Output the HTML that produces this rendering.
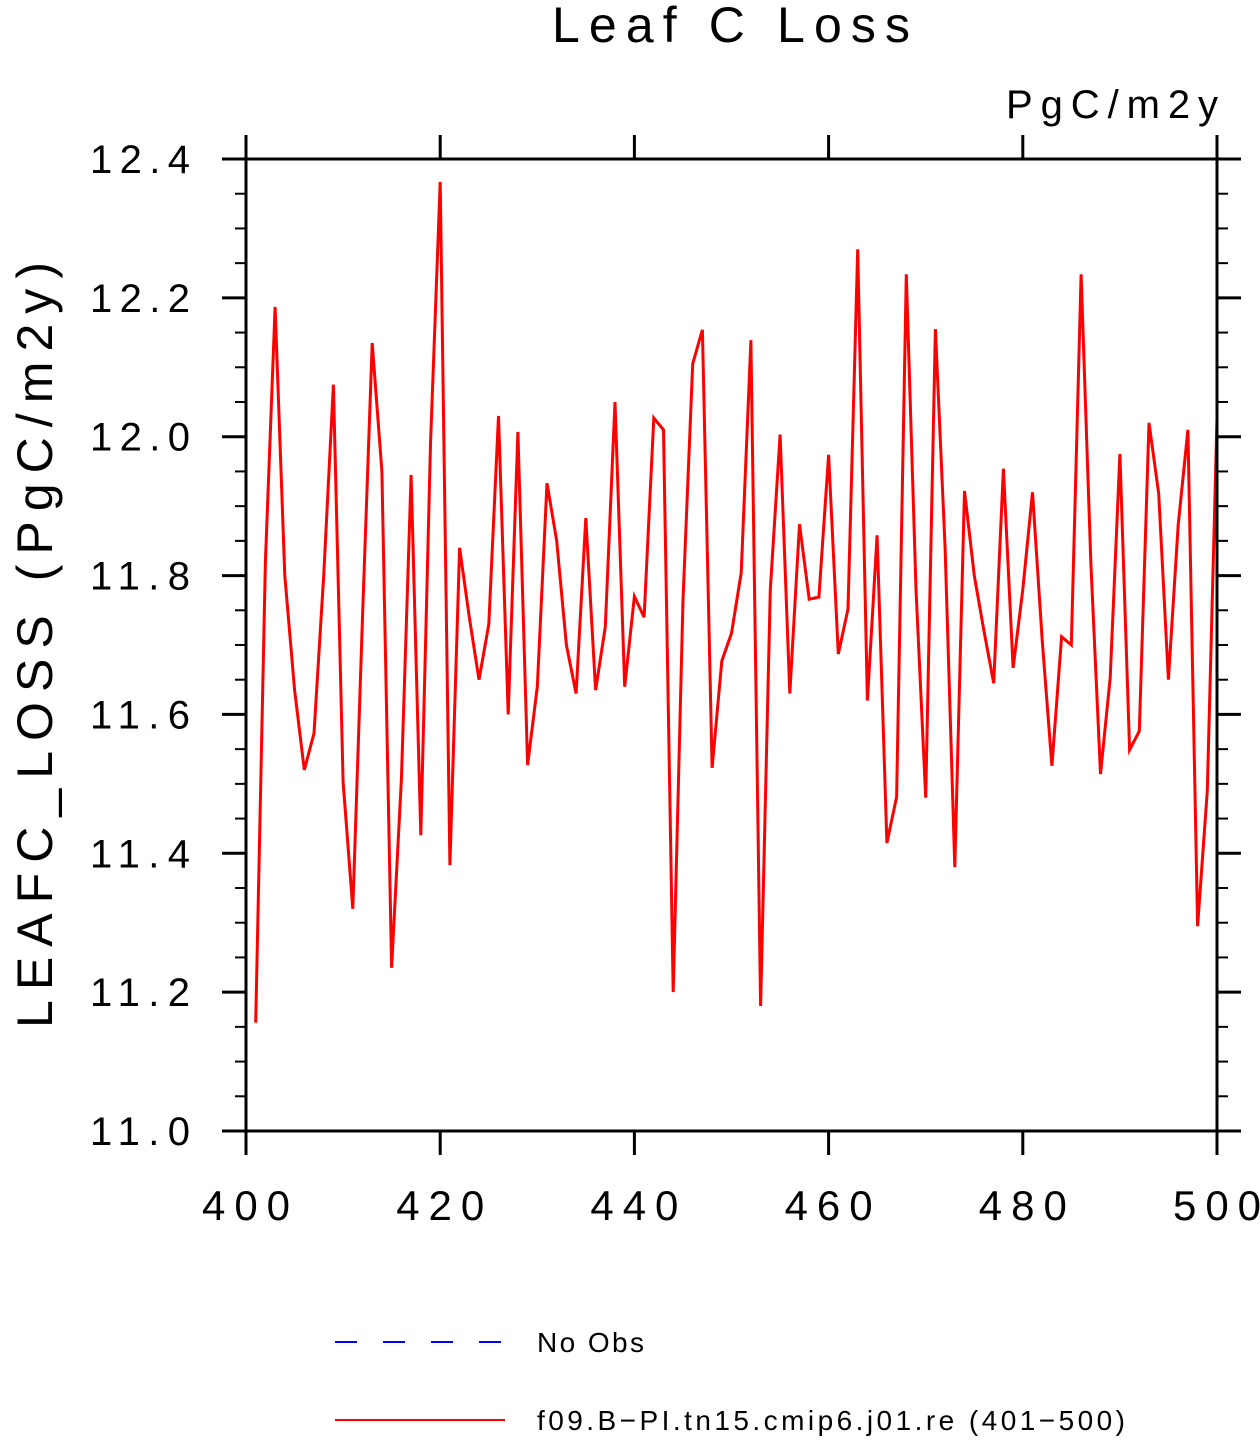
<!DOCTYPE html>
<html><head><meta charset="utf-8"><style>
body{margin:0;background:#fff}
svg text{font-family:"Liberation Sans","DejaVu Sans",sans-serif;fill:#000}
</style></head><body>
<svg id="chart" width="1260" height="1439" viewBox="0 0 1260 1439" xmlns="http://www.w3.org/2000/svg">
<text x="552" y="42" font-size="50" textLength="358" lengthAdjust="spacing">Leaf C Loss</text>
<text x="1006" y="118" font-size="40" textLength="212" lengthAdjust="spacing">PgC/m2y</text>
<text transform="translate(52,1028) rotate(-90)" font-size="50" textLength="766" lengthAdjust="spacing">LEAFC_LOSS  (PgC/m2y)</text>
<g id="axes"></g>
<polyline id="series" fill="none" stroke="#ff0000" stroke-width="3" stroke-linejoin="miter"/>
<rect x="246" y="159" width="971" height="972" fill="none" stroke="#000" stroke-width="3"/>
<line x1="335" y1="1342" x2="505" y2="1342" stroke="#0000ff" stroke-width="2" stroke-dasharray="22,26"/>
<text x="537" y="1352" font-size="28" textLength="107" lengthAdjust="spacing">No Obs</text>
<line x1="335" y1="1420" x2="505" y2="1420" stroke="#ff0000" stroke-width="2"/>
<text x="537" y="1430" font-size="28" textLength="588" lengthAdjust="spacing">f09.B−PI.tn15.cmip6.j01.re (401−500)</text>
</svg>
<script>
const years = [];
for (let i = 401; i <= 500; i++) years.push(i);
const values = [11.156,11.82,12.187,11.80,11.635,11.52,11.573,11.80,12.075,11.503,
11.32,11.74,12.135,11.95,11.235,11.507,11.945,11.426,11.99,12.367,
11.383,11.84,11.74,11.65,11.73,12.03,11.60,12.007,11.527,11.64,
11.933,11.85,11.70,11.63,11.883,11.635,11.726,12.05,11.64,11.77,
11.74,12.027,12.01,11.20,11.765,12.105,12.154,11.523,11.677,11.717,
11.804,12.139,11.18,11.78,12.003,11.63,11.874,11.766,11.769,11.974,
11.687,11.752,12.27,11.62,11.858,11.415,11.481,12.234,11.78,11.48,
12.155,11.84,11.38,11.922,11.80,11.72,11.645,11.954,11.667,11.78,
11.92,11.707,11.526,11.712,11.70,12.234,11.82,11.514,11.653,11.975,
11.549,11.576,12.02,11.918,11.65,11.873,12.01,11.295,11.49,12.027];
const xTicks = [400,420,440,460,480,500];
const yTicks = [11.0,11.2,11.4,11.6,11.8,12.0,12.2,12.4];
const yMinor = [];
for (let v = 11.0; v <= 12.4001; v += 0.05) yMinor.push(+v.toFixed(2));

const X0=246,X1=1217,Y0=1131,Y1=159;
const sx = v => X0 + (v-400)/(100)*(X1-X0);
const sy = v => Y0 - (v-11.0)/(1.4)*(Y0-Y1);
const NS="http://www.w3.org/2000/svg";
const g=document.getElementById('axes');
function ln(x1,y1,x2,y2,w){const l=document.createElementNS(NS,'line');l.setAttribute('x1',x1);l.setAttribute('y1',y1);l.setAttribute('x2',x2);l.setAttribute('y2',y2);l.setAttribute('stroke','#000');l.setAttribute('stroke-width',w);g.appendChild(l);return l;}
yMinor.forEach(v=>{
  const y=sy(v);
  const a=ln(X0-11,y,X0,y,2);
  
  
  const b=ln(X1,y,X1+11,y,2);
  
  
});
yTicks.forEach(v=>{
  const y=sy(v);
  const a=ln(X0-24,y,X0,y,3);
  
  
  const b=ln(X1,y,X1+24,y,3);
  
  
  const t=document.createElementNS(NS,'text');
  t.setAttribute('x',90);t.setAttribute('y',y+14);t.setAttribute('font-size','40');
  t.setAttribute('textLength','100');t.setAttribute('lengthAdjust','spacing');
  t.textContent=v.toFixed(1);
  
  
  g.appendChild(t);
});
xTicks.forEach(v=>{
  const x=sx(v);
  const a=ln(x,Y0,x,Y0+24,3);
  
  
  const b=ln(x,Y1-24,x,Y1,3);
  
  
  const t=document.createElementNS(NS,'text');
  t.setAttribute('x',x-44);t.setAttribute('y',1220);t.setAttribute('font-size','42');
  t.setAttribute('textLength','88');t.setAttribute('lengthAdjust','spacing');
  t.textContent=v;
  
  
  g.appendChild(t);
});
document.getElementById('series').setAttribute('points', years.map((yr,i)=>sx(yr).toFixed(1)+','+sy(values[i]).toFixed(1)).join(' '));
</script>
</body></html>
